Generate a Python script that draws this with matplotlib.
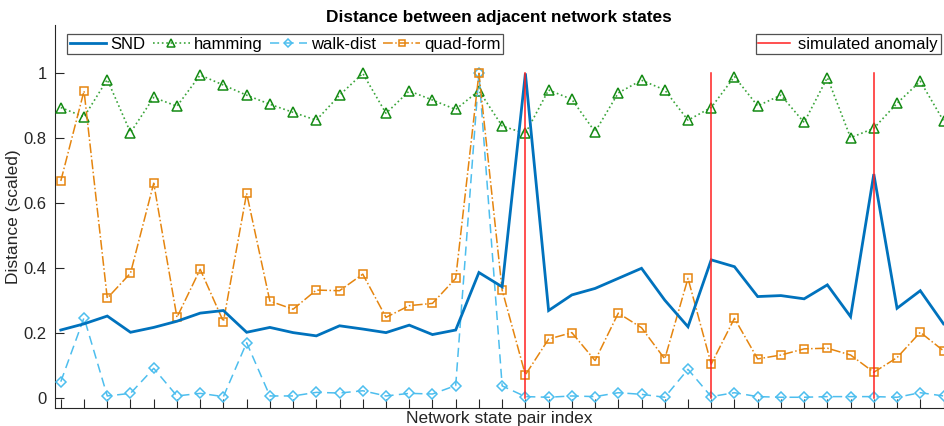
import numpy as np
import matplotlib
matplotlib.use("Agg")
import matplotlib.pyplot as plt
from matplotlib.lines import Line2D

plt.rcParams['font.family'] = ['Liberation Sans', 'DejaVu Sans']

pair_index = list(range(1, 40))

snd = [0.210, 0.229, 0.253, 0.203, 0.218, 0.237, 0.262, 0.270, 0.203, 0.218,
       0.202, 0.192, 0.223, 0.213, 0.202, 0.225, 0.196, 0.210, 0.387, 0.343,
       1.000, 0.270, 0.318, 0.338, 0.369, 0.400, 0.302, 0.220, 0.426, 0.405,
       0.313, 0.316, 0.306, 0.349, 0.251, 0.690, 0.277, 0.331, 0.229]

hamming = [0.895, 0.866, 0.981, 0.818, 0.926, 0.899, 0.995, 0.964, 0.933, 0.905,
           0.880, 0.856, 0.933, 1.000, 0.877, 0.946, 0.918, 0.889, 0.947, 0.838,
           0.815, 0.949, 0.920, 0.820, 0.940, 0.979, 0.949, 0.856, 0.895, 0.990,
           0.900, 0.933, 0.849, 0.987, 0.802, 0.831, 0.908, 0.976, 0.854]

walk_dist = [0.051, 0.248, 0.007, 0.015, 0.092, 0.007, 0.015, 0.005, 0.171, 0.007,
             0.007, 0.018, 0.016, 0.023, 0.007, 0.015, 0.013, 0.039, 1.000, 0.038,
             0.005, 0.003, 0.007, 0.005, 0.017, 0.012, 0.003, 0.089, 0.005, 0.017,
             0.005, 0.003, 0.003, 0.005, 0.005, 0.005, 0.003, 0.017, 0.007]

quad_form = [0.669, 0.946, 0.308, 0.385, 0.662, 0.249, 0.397, 0.236, 0.631, 0.299,
             0.274, 0.333, 0.331, 0.382, 0.249, 0.285, 0.292, 0.369, 1.000, 0.333,
             0.072, 0.182, 0.202, 0.116, 0.262, 0.217, 0.121, 0.369, 0.105, 0.246,
             0.121, 0.133, 0.152, 0.154, 0.133, 0.080, 0.125, 0.203, 0.146]

anomaly_index = [21, 29, 36]

c_snd = '#0072BD'
c_walk = '#4DBEEE'
c_quad = '#E5850F'
c_anom = '#FF2020'

fig = plt.figure(figsize=(9.44, 4.26), dpi=100)
ax = fig.add_axes([55 / 944, 1 - 408.3 / 426, (943.5 - 55) / 944, (408.3 - 25) / 426])

h_snd, = ax.plot(pair_index, snd, '-', color=c_snd, lw=2.0, label='SND', zorder=5,
                 solid_joinstyle='miter')
h_ham, = ax.plot(pair_index, hamming, ':', color='#3BA53B', lw=1.2, marker='^',
                 ms=7, mfc='none', mec='#138A13', mew=1.1, label='hamming', zorder=3)
h_walk, = ax.plot(pair_index, walk_dist, '--', color=c_walk, lw=1.1, marker='D',
                  ms=5.5, mfc='none', mec=c_walk, mew=1.1, dashes=(6, 3.5),
                  label='walk-dist', zorder=3)
h_quad, = ax.plot(pair_index, quad_form, '-.', color=c_quad, lw=1.1, marker='s',
                  ms=6, mfc='none', mec=c_quad, mew=1.1, label='quad-form', zorder=4)
for xa in anomaly_index:
    ax.plot([xa, xa], [0, 1], '-', color=c_anom, lw=1.1, zorder=6)
h_anom = Line2D([], [], color=c_anom, lw=1.1)

ax.set_xlim(0.75, 39)
ax.set_ylim(-0.031, 1.149)
ax.set_xticks(pair_index)
ax.set_xticklabels([])
ax.set_yticks([0, 0.2, 0.4, 0.6, 0.8, 1.0])
ax.set_yticklabels(['0', '0.2', '0.4', '0.6', '0.8', '1'])
ax.tick_params(direction='in', length=6.5, width=0.8, color='#262626',
               labelsize=12, labelcolor='#262626', pad=6)
for side in ['top', 'right']:
    ax.spines[side].set_visible(False)
for side in ['left', 'bottom']:
    ax.spines[side].set_color('#262626')
    ax.spines[side].set_linewidth(0.8)

ax.set_xlabel('Network state pair index', fontsize=12.5, color='#262626', labelpad=-4)
ax.set_ylabel('Distance (scaled)', fontsize=12.5, color='#262626', labelpad=2)
ax.set_title('Distance between adjacent network states', fontsize=12.4,
             fontweight='bold', pad=2)

leg1 = ax.legend(handles=[h_snd, h_ham, h_walk, h_quad], ncol=4, loc='upper left',
                 bbox_to_anchor=(12 / 888.5, 1 - 9 / 383.3), fontsize=12,
                 frameon=True, fancybox=False, edgecolor='#262626',
                 handlelength=2.2, handletextpad=0.25, columnspacing=0.45,
                 borderpad=0.15, borderaxespad=0, markerscale=0.75)
leg1.get_frame().set_linewidth(0.9)
ax.add_artist(leg1)
leg2 = ax.legend(handles=[h_anom], labels=['simulated anomaly'], loc='upper right',
                 bbox_to_anchor=(1 - 3 / 888.5, 1 - 9 / 383.3), fontsize=12,
                 frameon=True, fancybox=False, edgecolor='#262626',
                 handlelength=1.9, handletextpad=0.5, borderpad=0.15,
                 borderaxespad=0)
leg2.get_frame().set_linewidth(0.9)

fig.savefig('out.png', dpi=100)
